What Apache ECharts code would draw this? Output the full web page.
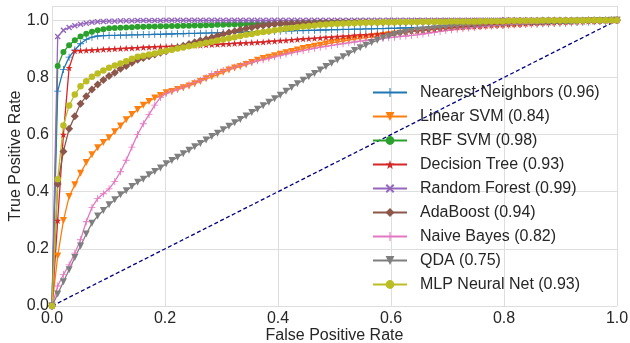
<!DOCTYPE html>
<html>
<head>
<meta charset="utf-8">
<script src="https://cdn.jsdelivr.net/npm/echarts@6/dist/echarts.min.js"></script>
<style>
html,body{margin:0;padding:0;background:#fff;}
#chart{width:630px;height:343px;}
</style>
</head>
<body>
<div id="chart"></div>
<script>
// Evaluation grid of false positive rates (100 evenly spaced samples, as in the reference)
const N_POINTS = 100;
const fpr = Array.from({length: N_POINTS}, (_, i) => i / (N_POINTS - 1));

const xTicks = [0, 0.2, 0.4, 0.6, 0.8, 1.0];
const yTicks = [0, 0.2, 0.4, 0.6, 0.8, 1.0];

const names = ['Nearest Neighbors', 'Linear SVM', 'RBF SVM', 'Decision Tree', 'Random Forest',
               'AdaBoost', 'Naive Bayes', 'QDA', 'MLP Neural Net'];
const aucs = [0.96, 0.84, 0.98, 0.93, 0.99, 0.94, 0.82, 0.75, 0.93];

const tprNearest = [0,.752,.828,.871,.896,.918,.933,.941,.945,.946,.947,
 .947,.948,.948,.949,.949,.950,.950,.951,.951,.952,
 .952,.953,.953,.954,.954,.955,.955,.956,.956,.957,
 .957,.958,.958,.959,.960,.960,.961,.961,.962,.962,
 .963,.963,.964,.964,.965,.965,.966,.966,.967,.967,
 .968,.968,.969,.969,.970,.970,.971,.971,.972,.972,
 .973,.973,.974,.975,.975,.976,.976,.977,.977,.978,
 .979,.979,.980,.981,.981,.982,.982,.983,.983,.984,
 .985,.985,.986,.987,.987,.988,.988,.989,.990,.990,
 .991,.992,.993,.994,.995,.996,.997,.998,1.0];

const tprLinearSVM = [0,.175,.299,.383,.424,.465,.502,.529,.554,.572,.589,
 .610,.630,.652,.670,.688,.703,.716,.728,.737,.746,
 .751,.758,.764,.770,.778,.786,.795,.802,.810,.818,
 .826,.833,.838,.845,.852,.860,.866,.871,.876,.881,
 .886,.891,.896,.901,.905,.909,.913,.917,.921,.924,
 .927,.931,.934,.937,.939,.942,.944,.947,.949,.952,
 .955,.957,.960,.962,.964,.966,.968,.970,.971,.972,
 .973,.974,.975,.976,.977,.978,.979,.980,.981,.982,
 .983,.984,.985,.986,.987,.988,.989,.990,.991,.992,
 .993,.994,.995,.996,.997,.998,.998,.999,1.0];

const tprRBFSVM = [0,.840,.889,.913,.930,.943,.953,.960,.965,.969,.972,
 .973,.974,.975,.976,.977,.977,.978,.978,.979,.979,
 .980,.980,.981,.981,.982,.982,.983,.983,.984,.984,
 .985,.985,.986,.986,.987,.987,.988,.988,.988,.989,
 .989,.989,.990,.990,.990,.991,.991,.991,.991,.992,
 .992,.992,.992,.993,.993,.993,.993,.994,.994,.994,
 .994,.994,.995,.995,.995,.995,.995,.996,.996,.996,
 .996,.996,.997,.997,.997,.997,.997,.997,.998,.998,
 .998,.998,.998,.998,.998,.999,.999,.999,.999,.999,
 .999,.999,.999,1,1,1,1,1,1];

const tprDecisionTree = [0,.299,.600,.834,.893,.894,.895,.896,.897,.898,.899,
 .900,.901,.902,.903,.904,.905,.906,.907,.908,.908,
 .909,.910,.911,.912,.913,.913,.914,.915,.916,.917,
 .918,.919,.920,.921,.922,.923,.924,.926,.927,.929,
 .930,.932,.933,.935,.936,.937,.939,.940,.941,.943,
 .944,.945,.947,.948,.949,.950,.952,.953,.954,.956,
 .958,.960,.962,.963,.965,.967,.969,.971,.972,.974,
 .976,.977,.978,.979,.980,.982,.983,.984,.985,.986,
 .987,.988,.989,.990,.991,.992,.992,.993,.994,.994,
 .995,.996,.996,.997,.997,.998,.999,.999,1.0];

const tprRandomForest = [0,.943,.965,.975,.981,.986,.990,.993,.995,.996,.997,
 .997,.998,.998,.998,.999,.999,.999,.999,.999,1,
 1,1,1,1,1,1,1,1,1,1,
 1,1,1,1,1,1,1,1,1,1,
 1,1,1,1,1,1,1,1,1,1,
 1,1,1,1,1,1,1,1,1,1,
 1,1,1,1,1,1,1,1,1,1,
 1,1,1,1,1,1,1,1,1,1,
 1,1,1,1,1,1,1,1,1,1,
 1,1,1,1,1,1,1,1,1];

const tprAdaBoost = [0,.427,.541,.620,.664,.708,.734,.758,.775,.791,.805,
 .816,.830,.840,.851,.862,.868,.874,.880,.886,.892,
 .899,.905,.911,.917,.923,.929,.934,.940,.946,.951,
 .957,.962,.967,.971,.975,.979,.982,.984,.986,.988,
 .988,.989,.989,.990,.990,.990,.991,.991,.991,.992,
 .992,.992,.992,.993,.993,.993,.993,.993,.994,.994,
 .994,.994,.994,.995,.995,.995,.995,.995,.996,.996,
 .996,.996,.996,.997,.997,.997,.997,.997,.998,.998,
 .998,.998,.998,.998,.998,.999,.999,.999,.999,.999,
 .999,.999,.999,1,1,1,1,1,1];

const tprNaiveBayes = [0,.070,.110,.144,.185,.232,.295,.345,.376,.393,.410,
 .436,.470,.510,.556,.600,.638,.670,.703,.730,.744,
 .752,.759,.766,.774,.782,.790,.800,.812,.818,.824,
 .830,.836,.842,.848,.853,.858,.862,.867,.872,.877,
 .882,.886,.890,.894,.898,.902,.906,.909,.912,.915,
 .918,.921,.924,.927,.930,.932,.934,.937,.939,.941,
 .943,.945,.947,.949,.952,.955,.958,.961,.964,.967,
 .969,.971,.973,.975,.977,.979,.980,.982,.983,.985,
 .986,.987,.988,.989,.990,.991,.992,.993,.994,.995,
 .995,.996,.997,.997,.998,.998,.999,.999,1.0];

const tprQDA = [0,.042,.085,.127,.170,.210,.252,.290,.315,.334,.354,
 .372,.389,.403,.418,.433,.444,.459,.471,.483,.498,
 .509,.521,.533,.545,.557,.569,.581,.593,.605,.617,
 .629,.641,.653,.665,.677,.689,.701,.713,.725,.738,
 .752,.765,.778,.790,.802,.814,.826,.838,.850,.861,
 .872,.883,.894,.904,.913,.922,.930,.938,.944,.950,
 .954,.958,.961,.964,.966,.968,.970,.972,.974,.976,
 .977,.979,.980,.981,.983,.984,.985,.986,.987,.988,
 .989,.990,.991,.992,.993,.993,.994,.995,.995,.996,
 .996,.997,.997,.998,.998,.999,.999,1.0,1.0];

const tprMLP = [0,.444,.632,.702,.740,.769,.787,.802,.814,.824,.834,
 .842,.849,.857,.865,.872,.876,.880,.884,.889,.893,
 .897,.901,.905,.909,.913,.917,.921,.925,.929,.933,
 .937,.941,.945,.949,.952,.956,.959,.962,.965,.968,
 .971,.973,.976,.978,.980,.982,.984,.985,.987,.988,
 .989,.990,.990,.991,.991,.992,.992,.993,.993,.993,
 .994,.994,.994,.994,.995,.995,.995,.995,.995,.996,
 .996,.996,.996,.996,.997,.997,.997,.997,.997,.998,
 .998,.998,.998,.998,.998,.999,.999,.999,.999,.999,
 .999,.999,.999,1,1,1,1,1,1];

const chanceLine = [[0, 0], [1, 1]];

const tprAll = [tprNearest, tprLinearSVM, tprRBFSVM, tprDecisionTree, tprRandomForest,
                tprAdaBoost, tprNaiveBayes, tprQDA, tprMLP];

const colors = ['#1f77b4', '#ff7f0e', '#2ca02c', '#d62728', '#9467bd',
                '#8c564b', '#e377c2', '#7f7f7f', '#bcbd22'];

const PLUS = 'path://M4.4,0H5.6V4.4H10V5.6H5.6V10H4.4V5.6H0V4.4H4.4Z';
const STAR = 'path://M5,0L6.18,3.45L9.76,3.45L6.9,5.65L7.94,9.05L5,7L2.06,9.05L3.1,5.65L0.24,3.45L3.82,3.45Z';
const XMARK = 'path://M1.6,0L5,3.4L8.4,0L10,1.6L6.6,5L10,8.4L8.4,10L5,6.6L1.6,10L0,8.4L3.4,5L0,1.6Z';

const markers = [
  {symbol: PLUS, size: 7, rotate: 0},
  {symbol: 'triangle', size: 7, rotate: 180},
  {symbol: 'circle', size: 6, rotate: 0},
  {symbol: STAR, size: 7, rotate: 0},
  {symbol: XMARK, size: 6, rotate: 0},
  {symbol: 'diamond', size: 8, rotate: 0},
  {symbol: PLUS, size: 7, rotate: 0},
  {symbol: 'triangle', size: 7, rotate: 180},
  {symbol: 'circle', size: 6.5, rotate: 0}
];

const FONT = 'Liberation Sans, Arial, sans-serif';
const TXT = '#262626';
const GRIDC = '#dedede';

const labels = names.map((n, k) => n + ' (' + aucs[k].toFixed(2) + ')');

const series = tprAll.map((tpr, k) => ({
  name: labels[k],
  type: 'line',
  data: tpr.map((v, i) => [fpr[i], v]),
  symbol: markers[k].symbol,
  symbolSize: markers[k].size,
  symbolRotate: markers[k].rotate,
  showSymbol: true,
  showAllSymbol: true,
  lineStyle: {color: colors[k], width: 1.3},
  itemStyle: {color: colors[k]},
  emphasis: {disabled: true},
  silent: true
}));

series.push({
  name: 'chance',
  type: 'line',
  data: chanceLine,
  symbol: 'none',
  lineStyle: {color: '#000080', width: 1.3, type: [4, 2.5]},
  silent: true
});

const isTick = (v, ticks) => ticks.some(t => Math.abs(t - v) < 1e-9);

const chart = echarts.init(document.getElementById('chart'), null, {renderer: 'canvas'});
chart.setOption({
  animation: false,
  backgroundColor: '#ffffff',
  textStyle: {fontFamily: FONT},
  grid: {left: 52, right: 13, top: 6, bottom: 37, containLabel: false, outerBoundsMode: 'none'},
  xAxis: {
    type: 'value', min: 0, max: 1, interval: 0.2,
    name: 'False Positive Rate', nameLocation: 'middle', nameGap: 22, nameMoveOverlap: false,
    nameTextStyle: {fontSize: 16, color: TXT, fontFamily: FONT},
    axisLine: {show: false}, axisTick: {show: false},
    axisLabel: {fontSize: 16, color: TXT, margin: 5, fontFamily: FONT,
      formatter: v => isTick(v, xTicks) ? v.toFixed(1) : ''},
    splitLine: {show: true, lineStyle: {color: GRIDC, width: 1}}
  },
  yAxis: {
    type: 'value', min: 0, max: 1.05, interval: 0.2,
    name: 'True Positive Rate', nameLocation: 'middle', nameGap: 28, nameMoveOverlap: false,
    nameTextStyle: {fontSize: 16, color: TXT, fontFamily: FONT},
    axisLine: {show: false}, axisTick: {show: false},
    axisLabel: {fontSize: 16, color: TXT, margin: 3, fontFamily: FONT,
      formatter: v => isTick(v, yTicks) ? v.toFixed(1) : ''},
    splitLine: {show: true, lineStyle: {color: GRIDC, width: 1}}
  },
  legend: {
    data: labels,
    orient: 'vertical',
    left: 367, top: 79.5,
    itemWidth: 34, itemHeight: 11, itemGap: 8,
    textStyle: {fontSize: 16, color: TXT, fontFamily: FONT, padding: [0, 0, 0, 8]},
    selectedMode: false
  },
  series: series
});
</script>
</body>
</html>
